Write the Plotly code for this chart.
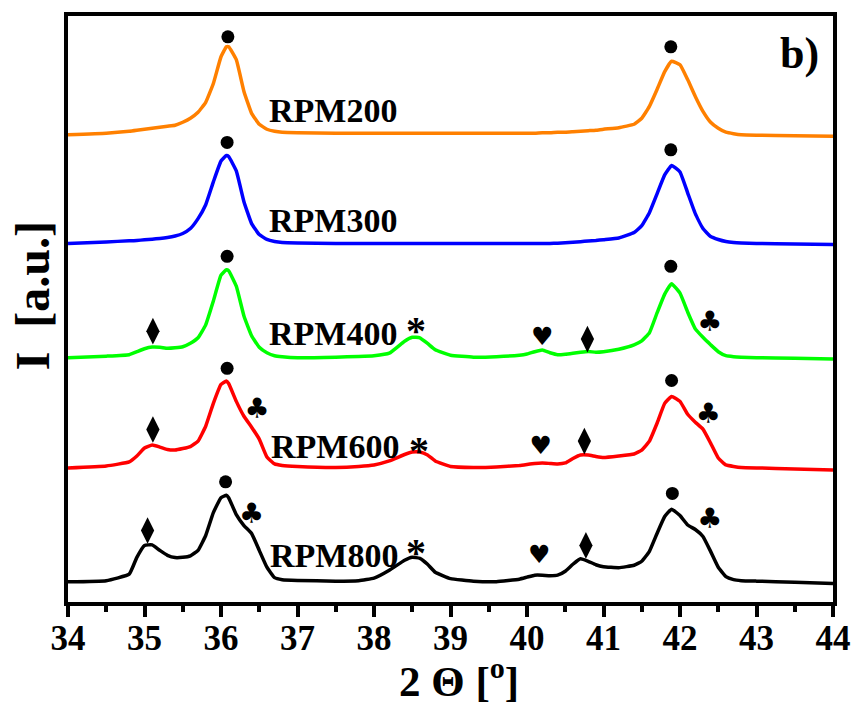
import plotly.graph_objects as go

# 2-theta grid (degrees)
two_theta = [34.0, 34.5, 34.8, 34.9, 35.0, 35.1, 35.2, 35.3, 35.4, 35.5, 35.6, 35.7, 35.8, 35.9,
             36.0, 36.07, 36.1, 36.2, 36.3, 36.4, 36.5, 36.6, 36.7, 36.8, 37.0, 37.5, 37.8,
             38.0, 38.2, 38.4, 38.5, 38.6, 38.7, 38.8, 39.0, 39.3, 39.6, 39.9, 40.0, 40.1,
             40.2, 40.3, 40.4, 40.5, 40.6, 40.7, 40.8, 40.9, 41.0, 41.2, 41.4, 41.5, 41.6,
             41.7, 41.8, 41.89, 42.0, 42.1, 42.2, 42.3, 42.4, 42.5, 42.6, 42.7, 42.8, 43.0,
             43.5, 44.0]

# intensities (a.u., stacked with offsets as in the figure)
rpm200 = [470.5, 472, 474, 475, 476, 477, 478, 479, 480, 483, 487, 493, 503, 522,
          549, 559, 559, 546, 514, 492, 481, 476, 474, 473, 472.5, 472, 472,
          472, 472, 472, 472, 472, 472, 472, 472, 472, 472, 472, 472, 472,
          472.5, 472.5, 473, 473, 473.5, 474, 474.5, 475, 476, 477.5, 481, 487, 499,
          516, 534, 544.5, 541, 526, 509, 494, 483, 477, 473, 471.5, 470.5, 470,
          469.5, 469]
rpm300 = [361, 362.5, 363.7, 364, 364.7, 365.3, 366, 367, 368.5, 371, 376, 386, 400, 423,
          444, 449.5, 448.5, 434, 403, 381, 370, 365, 363, 362, 361.5, 361, 361,
          361, 361, 361, 361, 361, 361, 361, 361, 361, 361, 361, 361, 361,
          361, 361, 361.3, 361.7, 362.2, 362.8, 363.5, 364, 364.8, 366.5, 372, 379, 392,
          411, 430, 439.5, 433, 412, 391, 376, 368, 365, 363, 362, 361.5, 361,
          360.5, 360]
rpm400 = [246, 247.5, 249, 252, 255, 256.7, 256.5, 255.5, 256, 257, 260.5, 266, 279, 303,
          329, 334.5, 333.5, 318, 288, 268, 256.5, 251, 248, 247, 246, 246.5, 247.2,
          248, 250.5, 262.5, 266.5, 266, 260.3, 254, 248.5, 246.5, 247, 248.5, 249.7, 252,
          253.7, 251, 249, 249.5, 250.5, 251.5, 252.2, 251.5, 252, 254.5, 259, 263, 271,
          291, 310, 320.5, 311, 292, 275, 266.5, 259, 252, 248, 247, 246.5, 246,
          245.3, 244.7]
rpm600 = [135, 137, 141, 147, 155, 158, 156, 153.5, 153, 154.5, 156.5, 162, 177, 200,
          219, 222.5, 220, 202, 187, 176, 164, 146, 139, 137.5, 136.5, 135.5, 136.5,
          138, 142, 148.5, 151, 151, 148, 142, 136.5, 135.5, 136, 137.5, 138.5, 139.5,
          140, 139.5, 139, 140, 144.5, 148, 148, 146.5, 145.5, 147, 149, 153, 162,
          180, 200, 207, 202, 189, 181, 174, 160, 145, 138, 136.5, 135.5, 135,
          134, 133]
rpm800 = [20.3, 21.5, 28, 45, 57, 57.5, 52, 47, 44.7, 45, 46.5, 52, 67, 90,
          105, 107.5, 105, 88, 77, 69, 52, 35, 24.5, 22.5, 21.7, 21, 21.5,
          24, 32, 42, 45, 44, 38, 30, 23.5, 21, 20.5, 23, 25, 27,
          27, 26.5, 27, 31, 38, 43.5, 41, 37.5, 35.5, 34.5, 37, 41, 51,
          69, 86, 93.5, 87, 77.5, 73, 66, 51, 35, 25.5, 22.5, 21.5, 21,
          20, 18.7]

series_names = ["RPM200", "RPM300", "RPM400", "RPM600", "RPM800"]
series_vals = [rpm200, rpm300, rpm400, rpm600, rpm800]
series_colors = ["#FF8000", "#0000FF", "#00FF00", "#FF0000", "#000000"]
label_x = [37.47, 37.47, 37.46, 37.49, 37.48]
label_y = [495, 384, 270, 157, 47]

# phase markers
circle_x = [36.09, 41.88, 36.08, 41.88, 36.08, 41.88, 36.08, 41.89, 36.06, 41.90]
circle_y = [569, 559, 462.7, 455.3, 348, 338, 235.3, 223, 121, 109.3]
diamond_x = [35.11, 40.79, 35.11, 40.75, 35.04, 40.77]
diamond_y = [272.7, 264.7, 173.7, 162, 72, 57]
heart_x = [40.20, 40.18, 40.16]
heart_y = [265.3, 155.3, 45.3]
club_x = [42.39, 36.47, 42.37, 36.40, 42.39]
club_y = [280.3, 192, 187, 87, 82]
star_x = [38.55, 38.59, 38.55]
star_y = [282, 162, 58.7]

SERIF = "Liberation Serif, Times New Roman, serif"

fig = go.Figure()
for name, vals, col in zip(series_names, series_vals, series_colors):
    fig.add_trace(go.Scatter(x=two_theta, y=vals, mode="lines", name=name,
                             line=dict(color=col, width=3.5, shape="spline", smoothing=0.35),
                             showlegend=False, hoverinfo="skip"))

fig.add_trace(go.Scatter(x=circle_x, y=circle_y, mode="markers",
                         marker=dict(symbol="circle", size=13, color="black"),
                         showlegend=False, hoverinfo="skip"))
fig.add_trace(go.Scatter(x=diamond_x, y=diamond_y, mode="markers",
                         marker=dict(symbol="diamond-tall", size=19, color="black"),
                         showlegend=False, hoverinfo="skip"))
fig.add_trace(go.Scatter(x=heart_x, y=heart_y, mode="text", text=["♥"] * len(heart_x),
                         textfont=dict(family="DejaVu Sans", size=25, color="black"),
                         showlegend=False, hoverinfo="skip"))
fig.add_trace(go.Scatter(x=club_x, y=club_y, mode="text", text=["♣"] * len(club_x),
                         textfont=dict(family="DejaVu Sans", size=28, color="black"),
                         showlegend=False, hoverinfo="skip"))

annotations = []
for name, lx, ly in zip(series_names, label_x, label_y):
    annotations.append(dict(x=lx, y=ly, xref="x", yref="y", text="<b>%s</b>" % name,
                            showarrow=False, font=dict(family=SERIF, size=34, color="black")))
for sx, sy in zip(star_x, star_y):
    annotations.append(dict(x=sx, y=sy, xref="x", yref="y", text="<b>*</b>", yshift=-9,
                            showarrow=False, font=dict(family=SERIF, size=40, color="black")))
annotations.append(dict(x=43.56, y=552, xref="x", yref="y", text="<b>b)</b>",
                        showarrow=False, font=dict(family=SERIF, size=44, color="black")))
annotations.append(dict(x=0.5117, y=-0.1305, xref="paper", yref="paper",
                        xanchor="center", yanchor="middle",
                        text="<b>2 Θ [<sup>o</sup>]</b>", showarrow=False,
                        font=dict(family=SERIF, size=43, color="black")))
annotations.append(dict(x=-0.0468, y=0.522, xref="paper", yref="paper",
                        xanchor="center", yanchor="middle",
                        text="<b>I  [a.u.]</b>", textangle=-90, showarrow=False,
                        font=dict(family=SERIF, size=48, color="black")))

fig.update_layout(
    width=863, height=704,
    margin=dict(l=68, r=25, t=12, b=102),
    paper_bgcolor="white", plot_bgcolor="white",
    annotations=annotations,
    xaxis=dict(range=[34, 44], tickmode="linear", tick0=34, dtick=1,
               ticks="outside", ticklen=11, tickwidth=4, tickcolor="black",
               ticklabelstandoff=-9,
               minor=dict(ticks="outside", dtick=0.5, ticklen=6, tickwidth=4, tickcolor="black"),
               showline=True, linewidth=4, linecolor="black", mirror=True,
               showgrid=False, zeroline=False,
               tickfont=dict(family=SERIF, size=35, color="black", weight="bold")),
    yaxis=dict(range=[0, 590], showticklabels=False, ticks="",
               showline=True, linewidth=4, linecolor="black", mirror=True,
               showgrid=False, zeroline=False),
)

fig.write_html("out.html")
